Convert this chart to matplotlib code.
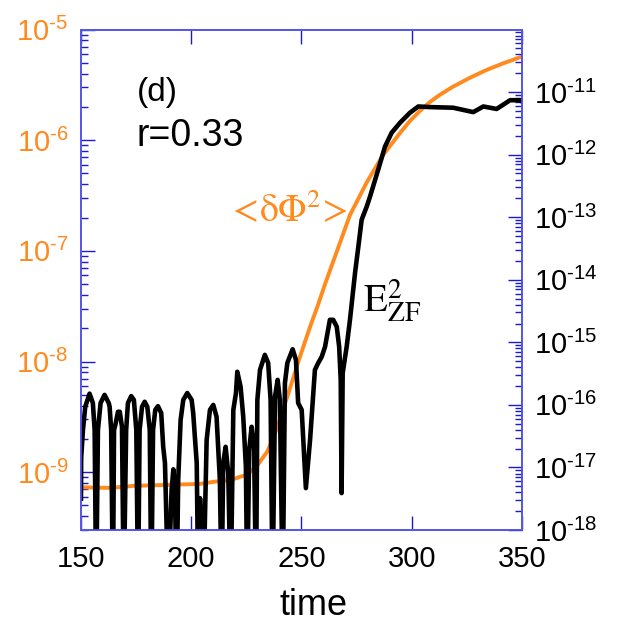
import numpy as np
import matplotlib
matplotlib.use('Agg')
import matplotlib.pyplot as plt
from matplotlib.ticker import LogLocator, NullFormatter

plt.rcParams['font.family'] = 'Liberation Sans'
plt.rcParams['mathtext.fontset'] = 'custom'
plt.rcParams['mathtext.rm'] = 'Liberation Sans'
plt.rcParams['mathtext.it'] = 'Liberation Sans:italic'
plt.rcParams['axes.unicode_minus'] = False

# <dPhi^2>, left axis (log10 of value)
phi_t = [150.0, 163.2, 173.6, 189.0, 204.0, 209.9, 218.9, 222.1, 225.3, 227.6,
         229.8, 232.1, 234.4, 236.6, 238.9, 241.2, 243.4, 245.7, 249.3, 253.9,
         257.5, 260.7, 264.7, 272.0, 279.7, 287.0, 294.7, 299.2, 303.7, 308.3,
         312.7, 318.6, 326.3, 334.0, 341.3, 349.1, 350.0]
phi_log = [-9.137, -9.142, -9.124, -9.115, -9.106, -9.088, -9.065, -9.042, -9.024, -8.979,
           -8.943, -8.880, -8.817, -8.717, -8.600, -8.464, -8.329, -8.184, -7.958, -7.687,
           -7.489, -7.300, -7.080, -6.676, -6.378, -6.134, -5.935, -5.826, -5.736, -5.654,
           -5.591, -5.518, -5.437, -5.365, -5.307, -5.251, -5.248]

# E_ZF^2, right axis (log10 of value)
ezf_t = [150.0, 150.1, 150.9, 151.95, 153.9, 155.4, 156.2, 156.9, 157.7, 158.9,
         160.7, 162.6, 163.0, 163.7, 164.5, 165.0, 165.6, 166.8, 167.6, 168.6,
         169.4, 170.5, 171.3, 172.8, 174.0, 175.1, 175.9, 176.6, 177.7, 178.9,
         180.1, 181.2, 181.9, 182.7, 183.7, 184.9, 186.4, 187.3, 188.1, 189.6,
         191.1, 191.9, 192.6, 193.4, 194.1, 195.2, 196.4, 198.2, 200.2, 200.9,
         202.5, 203.2, 204.0, 204.7, 205.5, 207.0, 208.5, 210.0, 211.5, 213.0,
         213.8, 214.5, 215.6, 216.8, 217.9, 219.1, 220.3, 220.9, 222.4, 223.6,
         224.8, 225.4, 226.3, 227.4, 228.5, 229.4, 230.0, 231.2, 233.4, 234.9,
         236.0, 236.9, 238.0, 239.2, 240.2, 241.5, 242.5, 243.6, 246.0, 247.5,
         248.5, 250.1, 252.0, 253.9, 256.1, 257.6, 259.2, 260.7, 262.9, 264.4,
         266.0, 267.1, 267.8, 268.2, 268.7, 270.5, 272.0, 274.3, 275.8, 277.3,
         279.6, 281.1, 284.8, 287.9, 289.4, 290.9, 294.7, 299.2, 303.0, 308.3,
         318.8, 327.9, 332.5, 338.5, 344.6, 349.1, 350.0]
ezf_log = [-17.5, -16.85, -16.40, -16.03, -15.82, -15.97, -16.40, -19.0, -16.40, -15.97,
           -15.84, -15.97, -16.03, -16.40, -19.0, -16.40, -16.32, -16.11, -16.11, -16.35,
           -19.0, -16.40, -15.97, -15.86, -15.92, -16.40, -19.0, -16.40, -16.03, -15.95,
           -16.03, -16.40, -19.0, -16.40, -16.08, -16.02, -16.13, -16.67, -16.93, -19.0,
           -17.36, -17.03, -17.36, -19.0, -17.20, -16.24, -15.92, -15.81, -15.92, -16.13,
           -16.93, -19.0, -17.49, -17.95, -19.0, -16.56, -16.08, -16.00, -16.19, -17.20,
           -19.0, -16.93, -16.67, -17.09, -19.0, -16.08, -15.81, -15.47, -15.71, -16.19,
           -16.99, -19.0, -16.72, -16.35, -16.67, -19.0, -15.92, -15.44, -15.20, -15.33,
           -15.92, -19.0, -15.87, -15.60, -15.92, -19.0, -15.65, -15.33, -15.11, -15.28,
           -15.97, -16.08, -17.33, -16.56, -15.44, -15.33, -15.23, -15.07, -14.64, -14.64,
           -14.75, -15.07, -15.60, -17.41, -15.49, -15.07, -14.64, -13.89, -13.47, -13.04,
           -12.83, -12.67, -12.24, -11.87, -11.76, -11.65, -11.49, -11.33, -11.23, -11.24,
           -11.25, -11.32, -11.23, -11.27, -11.13, -11.13, -11.15]

left_ticks = [1e-9, 1e-8, 1e-7, 1e-6, 1e-5]
left_exps = ['9', '8', '7', '6', '5']
right_ticks = [1e-18, 1e-17, 1e-16, 1e-15, 1e-14, 1e-13, 1e-12, 1e-11]
right_exps = ['18', '17', '16', '15', '14', '13', '12', '11']
x_ticks = [150, 200, 250, 300, 350]

orange = '#FF8A1E'
spineblue = '#5555e8'
tickblue = '#1a1ad0'

fig = plt.figure(figsize=(6.18, 6.24), dpi=100)
ax = fig.add_axes([0.131, 0.1506, 0.7136, 0.8021])
ax2 = ax.twinx()

ax.plot(phi_t, 10.0 ** np.array(phi_log), color=orange, lw=2.8)
ax2.plot(ezf_t, 10.0 ** np.array(ezf_log), color='black', lw=3.3,
         solid_joinstyle='round')

ax.set_xlim(150, 350)
ax.set_xticks(x_ticks)
ax.set_yscale('log')
ax.set_ylim(3e-10, 1e-5)
ax.set_yticks(left_ticks)
ax.set_yticklabels(['$10^{\u2010%s}$' % e for e in left_exps])
ax.yaxis.set_minor_locator(LogLocator(base=10, subs=np.arange(2, 10), numticks=30))
ax.yaxis.set_minor_formatter(NullFormatter())

ax2.set_yscale('log')
ax2.set_ylim(1e-18, 1e-10)
ax2.set_yticks(right_ticks)
ax2.set_yticklabels(['$10^{\u2010%s}$' % e for e in right_exps])
ax2.yaxis.set_minor_locator(LogLocator(base=10, subs=np.arange(2, 10), numticks=30))
ax2.yaxis.set_minor_formatter(NullFormatter())

for a in (ax, ax2):
    for s in a.spines.values():
        s.set_color(spineblue)
        s.set_linewidth(1.2)

ax.tick_params(axis='x', which='major', direction='in', length=10, width=1,
               color=tickblue, top=True, labelsize=21, pad=11)
ax.tick_params(axis='y', which='major', direction='in', length=10, width=1,
               color=tickblue, labelsize=21, labelcolor=orange, pad=9)
ax.tick_params(axis='y', which='minor', direction='in', length=5, width=1,
               color=tickblue)
ax2.tick_params(axis='y', which='major', direction='in', length=10, width=1,
                color=tickblue, labelsize=21, pad=9)
ax2.tick_params(axis='y', which='minor', direction='in', length=5, width=1,
                color=tickblue)

ax.set_xlabel('time', fontsize=26)
ax.xaxis.set_label_coords(0.527, -0.116)

ax.text(0.127, 0.875, '(d)', fontsize=24, transform=ax.transAxes, va='center')
ax.text(0.127, 0.787, 'r=0.33', fontsize=27, transform=ax.transAxes, va='center')
ax.text(0.332, 0.616, r'$<\!\mathrm{\delta\Phi}^{2}\!>$', fontsize=27, color=orange,
        transform=ax.transAxes, va='baseline', math_fontfamily='stix')
ax2.text(0.64, 0.436, r'$\mathrm{E}_{\mathrm{ZF}}^{2}$', fontsize=28,
         transform=ax.transAxes, va='baseline', math_fontfamily='stix')

fig.savefig('out.png', dpi=100)
